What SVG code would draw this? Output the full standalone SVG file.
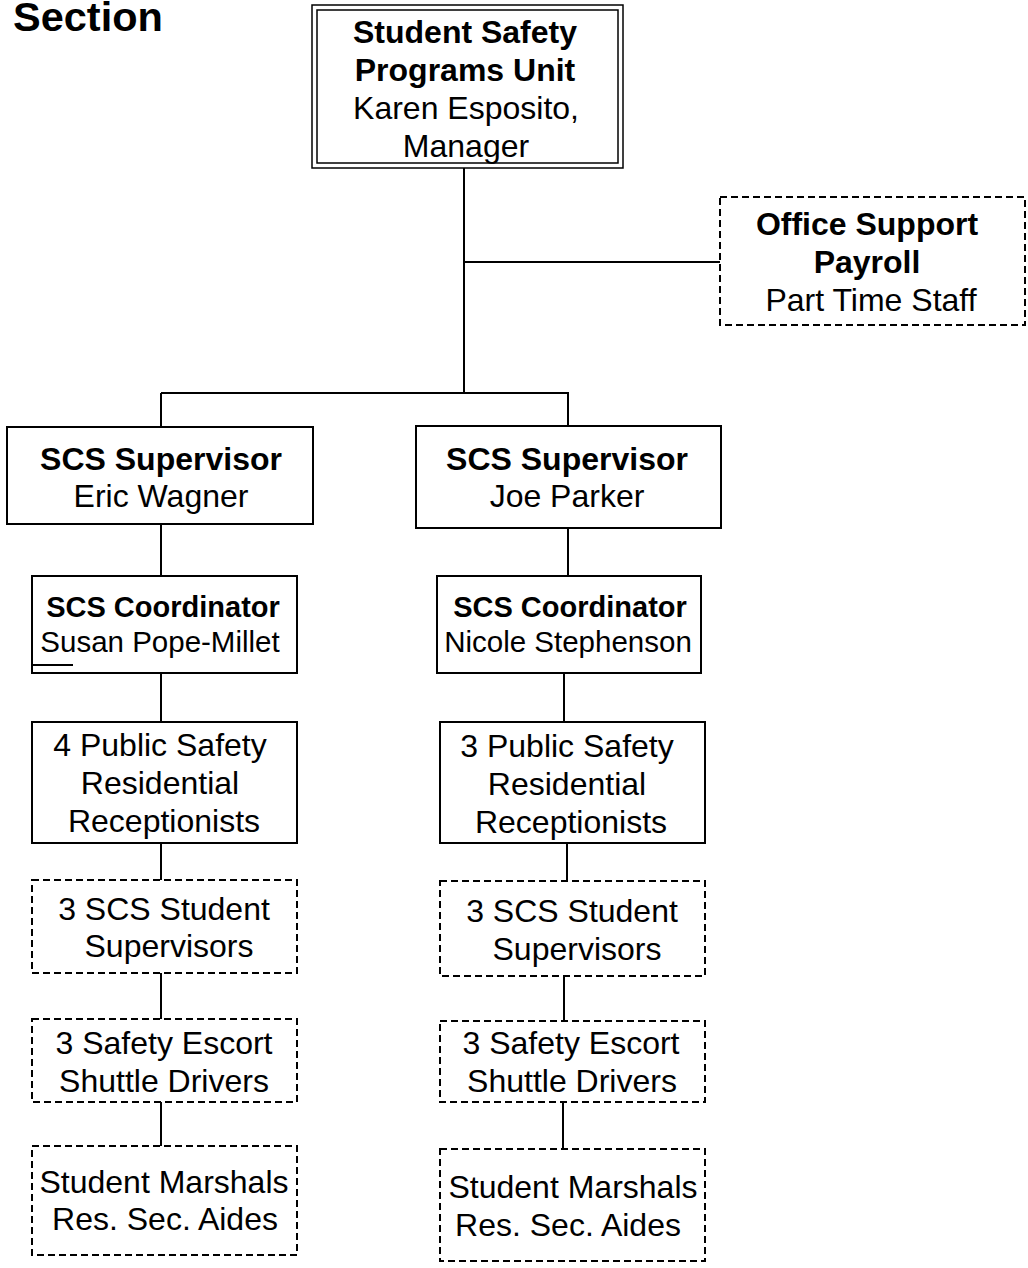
<svg xmlns="http://www.w3.org/2000/svg" width="1028" height="1268" viewBox="0 0 1028 1268">
<style>
text{font-family:"Liberation Sans",Arial,sans-serif;fill:#000;text-anchor:middle}
.b{font-weight:bold;font-size:32px}
.r{font-size:32px}
.cb{font-weight:bold;font-size:29px}
.cr{font-size:29.5px}
.box{fill:#fff;stroke:#000;stroke-width:2}
.dbox{fill:#fff;stroke:#000;stroke-width:2;stroke-dasharray:7 4}
.conn line{stroke:#000;stroke-width:2}
</style>
<rect width="1028" height="1268" fill="#fff"/>
<text x="13" y="31" style="font-weight:bold;font-size:41.5px;text-anchor:start">Section</text>
<g class="conn">
<line x1="464" y1="168" x2="464" y2="393"/>
<line x1="464" y1="262" x2="720" y2="262"/>
<line x1="161" y1="393" x2="569" y2="393"/>
<line x1="161" y1="393" x2="161" y2="427"/>
<line x1="568" y1="393" x2="568" y2="426"/>
<line x1="161" y1="524" x2="161" y2="576"/>
<line x1="568" y1="528" x2="568" y2="576"/>
<line x1="161" y1="673" x2="161" y2="722"/>
<line x1="564" y1="673" x2="564" y2="722"/>
<line x1="161" y1="843" x2="161" y2="880"/>
<line x1="567" y1="843" x2="567" y2="881"/>
<line x1="161" y1="973" x2="161" y2="1019"/>
<line x1="564" y1="976" x2="564" y2="1021"/>
<line x1="161" y1="1102" x2="161" y2="1146"/>
<line x1="563" y1="1102" x2="563" y2="1149"/>
</g>
<g id="unit">
<rect x="312" y="5" width="311" height="163" fill="#fff" stroke="#000" stroke-width="1.5"/>
<rect x="317" y="10" width="301" height="153" fill="none" stroke="#000" stroke-width="1.5"/>
<text class="b" x="465" y="43">Student Safety</text>
<text class="b" x="465" y="81">Programs Unit</text>
<text class="r" x="466" y="119">Karen Esposito,</text>
<text class="r" x="466" y="157">Manager</text>
</g>
<g id="office">
<rect class="dbox" x="720" y="197" width="305" height="128"/>
<text class="b" x="867" y="235">Office Support</text>
<text class="b" x="867" y="273">Payroll</text>
<text class="r" x="871" y="311">Part Time Staff</text>
</g>
<g id="sup-left">
<rect class="box" x="7" y="427" width="306" height="97"/>
<text class="b" x="161" y="470">SCS Supervisor</text>
<text class="r" x="161" y="507">Eric Wagner</text>
</g>
<g id="sup-right">
<rect class="box" x="416" y="426" width="305" height="102"/>
<text class="b" x="567" y="470">SCS Supervisor</text>
<text class="r" x="567" y="507">Joe Parker</text>
</g>
<g id="coord-left">
<rect class="box" x="32" y="576" width="265" height="97"/>
<line x1="33" y1="665" x2="73" y2="665" stroke="#000" stroke-width="2"/>
<text class="cb" x="163" y="617">SCS Coordinator</text>
<text class="cr" x="160" y="652">Susan Pope-Millet</text>
</g>
<g id="coord-right">
<rect class="box" x="437" y="576" width="264" height="97"/>
<text class="cb" x="570" y="617">SCS Coordinator</text>
<text class="cr" x="568" y="652">Nicole Stephenson</text>
</g>
<g id="recep-left">
<rect class="box" x="32" y="722" width="265" height="121"/>
<text class="r" x="160" y="756">4 Public Safety</text>
<text class="r" x="160" y="794">Residential</text>
<text class="r" x="164" y="832">Receptionists</text>
</g>
<g id="recep-right">
<rect class="box" x="440" y="722" width="265" height="121"/>
<text class="r" x="567" y="757">3 Public Safety</text>
<text class="r" x="567" y="795">Residential</text>
<text class="r" x="571" y="833">Receptionists</text>
</g>
<g id="stsup-left">
<rect class="dbox" x="32" y="880" width="265" height="93"/>
<text class="r" x="164" y="920">3 SCS Student</text>
<text class="r" x="169" y="957">Supervisors</text>
</g>
<g id="stsup-right">
<rect class="dbox" x="440" y="881" width="265" height="95"/>
<text class="r" x="572" y="922">3 SCS Student</text>
<text class="r" x="577" y="960">Supervisors</text>
</g>
<g id="escort-left">
<rect class="dbox" x="32" y="1019" width="265" height="83"/>
<text class="r" x="164" y="1054">3 Safety Escort</text>
<text class="r" x="164" y="1092">Shuttle Drivers</text>
</g>
<g id="escort-right">
<rect class="dbox" x="440" y="1021" width="265" height="81"/>
<text class="r" x="571" y="1054">3 Safety Escort</text>
<text class="r" x="572" y="1092">Shuttle Drivers</text>
</g>
<g id="marsh-left">
<rect class="dbox" x="32" y="1146" width="265" height="109"/>
<text class="r" x="164" y="1193">Student Marshals</text>
<text class="r" x="165" y="1230">Res. Sec. Aides</text>
</g>
<g id="marsh-right">
<rect class="dbox" x="440" y="1149" width="265" height="112"/>
<text class="r" x="573" y="1198">Student Marshals</text>
<text class="r" x="568" y="1236">Res. Sec. Aides</text>
</g>
</svg>
